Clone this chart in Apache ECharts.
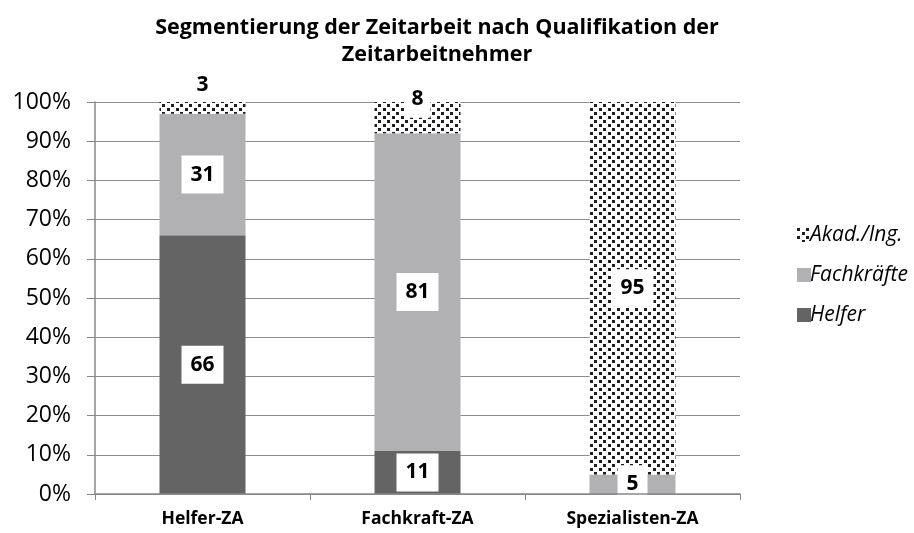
<!DOCTYPE html>
<html><head><meta charset="utf-8">
<script src="https://cdn.jsdelivr.net/npm/echarts@6/dist/echarts.min.js"></script>
<style>html,body{margin:0;padding:0;background:#fff}#c{width:914px;height:533px}</style>
</head><body><div id="c"></div>
<script>
const categories = ['Helfer-ZA', 'Fachkraft-ZA', 'Spezialisten-ZA'];
const helfer = [66, 11, 0];
const fachkraefte = [31, 81, 5];
const akad = [3, 8, 95];
const yTicks = [0, 10, 20, 30, 40, 50, 60, 70, 80, 90, 100];

const tile = document.createElement('canvas');
tile.width = 9; tile.height = 8;
const tc = tile.getContext('2d');
tc.fillStyle = '#ffffff'; tc.fillRect(0, 0, 9, 8);
tc.fillStyle = '#1e1e1e';
tc.fillRect(0, 0, 3, 3);
tc.fillRect(5, 4, 3, 3);
const patternColor = { image: tile, repeat: 'repeat' };

const font = '"Open Sans", sans-serif';
const lblBase = {
  show: true, color: '#000', fontWeight: 'bold', fontSize: 21, lineHeight: 22, fontFamily: font,
  backgroundColor: '#fff', padding: [8, 9, 8, 9],
  formatter: p => p.value ? String(p.value) : ''
};

function mk(arr, opts) {
  return arr.map((v, i) => {
    const o = { value: v };
    if (opts && opts[i]) o.label = opts[i];
    return o;
  });
}

const chart = echarts.init(document.getElementById('c'));
chart.setOption({
  animation: false,
  title: {
    text: 'Segmentierung der Zeitarbeit nach Qualifikation der\nZeitarbeitnehmer',
    left: 432, top: 9, textAlign: 'center',
    textStyle: { fontFamily: font, fontWeight: 'bold', fontSize: 21.5, lineHeight: 27, color: '#000' }
  },
  legend: {
    orient: 'vertical', left: 792, top: 219, itemGap: 18, itemWidth: 14, itemHeight: 14, icon: 'rect',
    data: ['Akad./Ing.', 'Fachkräfte', 'Helfer'],
    textStyle: { fontFamily: font, fontStyle: 'italic', fontSize: 21, lineHeight: 22, color: '#000', padding: [0, 0, 0, -6] }
  },
  grid: { left: 95, right: 174, top: 102, bottom: 39 },
  xAxis: {
    type: 'category', data: categories, z: 10,
    axisLine: { lineStyle: { color: '#888', width: 1.5 } },
    axisTick: { show: true, alignWithLabel: false, length: 6, lineStyle: { color: '#888' } },
    axisLabel: { fontFamily: font, fontWeight: 'bold', fontSize: 17.5, color: '#000', margin: 16 }
  },
  yAxis: {
    type: 'value', min: 0, max: 100, interval: 10,
    axisLine: { show: true, lineStyle: { color: '#888', width: 1.5 } },
    axisTick: { show: true, length: 8, lineStyle: { color: '#888' } },
    splitLine: { lineStyle: { color: '#8c8c8c', width: 1.2 } },
    axisLabel: {
      fontFamily: font, fontSize: 23, color: '#000', margin: 24,
      formatter: v => yTicks.includes(v) ? v + '%' : ''
    }
  },
  series: [
    {
      name: 'Helfer', type: 'bar', stack: 's', barWidth: '40%',
      itemStyle: { color: '#646464' },
      label: lblBase,
      data: mk(helfer)
    },
    {
      name: 'Fachkräfte', type: 'bar', stack: 's', barWidth: '40%',
      itemStyle: { color: '#b1b1b4' },
      label: lblBase,
      data: mk(fachkraefte)
    },
    {
      name: 'Akad./Ing.', type: 'bar', stack: 's', barWidth: '40%',
      itemStyle: { color: patternColor },
      label: lblBase,
      data: mk(akad, [{ position: 'top', distance: 6, padding: [0, 9, 0, 9], backgroundColor: 'transparent' }, { offset: [0, -19], padding: [8, 7, 8, 7] }, null])
    }
  ]
});
</script></body></html>
